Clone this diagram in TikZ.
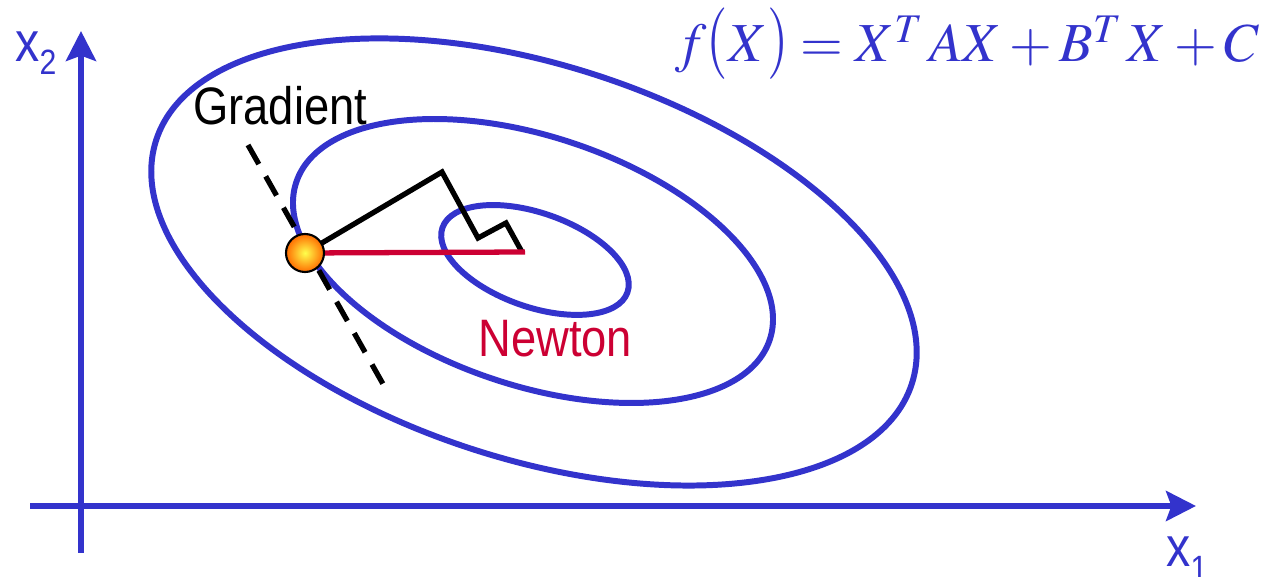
\documentclass[tikz,border=0pt]{standalone}
\usepackage{mathptmx}
\usepackage{graphicx}
\usepackage[no-math]{fontspec}
\newfontfamily\labelfont[FakeStretch=0.86]{Liberation Sans}
\usetikzlibrary{arrows.meta}
\definecolor{axisblue}{RGB}{51,51,204}
\definecolor{newtonred}{RGB}{204,0,51}
\newcommand{\tallparen}[1]{\mathopen{\hbox{\scalebox{1}[1.3]{$#1$}}}}
\newcommand{\tallclose}[1]{\mathclose{\hbox{\scalebox{1}[1.3]{$#1$}}}}

\begin{document}
\begin{tikzpicture}[
    x=0.02cm, y=-0.02cm,
    contour/.style={draw=axisblue, line width=3.4pt},
    axis/.style={draw=axisblue, line width=3.4pt,
        -{Stealth[length=17pt, width=17pt, inset=3pt]}},
    zigzag/.style={draw=black, line width=3pt, line join=miter},
    newton/.style={draw=newtonred, line width=3pt},
    tangent/.style={draw=black, line width=3pt, dash pattern=on 12.5pt off 8pt},
    ball/.style={circle, draw=black, line width=1.2pt, minimum size=0.76cm,
        inner sep=0pt, inner color=yellow!70!white, outer color=orange!85!red},
    lbl/.style={inner sep=0pt, anchor=base west,
        font=\labelfont\fontsize{30}{36}\selectfont}
]
\useasboundingbox (0,0) rectangle (1262,577);

% axes
\coordinate (v0) at (81,553);
\coordinate (v1) at (81,31);
\coordinate (h0) at (30,506);
\coordinate (h1) at (1196,506);
\draw[axis] (v0) -- (v1);
\draw[axis] (h0) -- (h1);

% level sets
\coordinate (c0) at (534,262);
\coordinate (c1) at (533,261);
\coordinate (c2) at (535,260);
\draw[contour, rotate around={-17.85:(c0)}] (c0) ellipse [x radius=397, y radius=197];
\draw[contour, rotate around={-18.4:(c1)}] (c1) ellipse [x radius=249.5, y radius=124.5];
\draw[contour, rotate around={-19.3:(c2)}] (c2) ellipse [x radius=98, y radius=47];

% steps
\coordinate (x0) at (305,253);
\coordinate (d1) at (248,145);
\coordinate (d2) at (383,384);
\coordinate (g1) at (442,172);
\coordinate (g2) at (478,238);
\coordinate (g3) at (506,223);
\coordinate (g4) at (522,252);
\coordinate (nend) at (525,252);
\draw[tangent] (d1) -- (d2);
\draw[zigzag] (x0) -- (g1) -- (g2) -- (g3) -- (g4);
\draw[newton] (x0) -- (nend);
\node[ball] (start) at (x0) {};

% labels
\node[lbl] (grad) at (193,125) {Gradient};
\node[lbl, text=newtonred] (newt) at (478,357) {Newton};
\node[lbl, text=axisblue, font=\labelfont\fontsize{32}{38}\selectfont] (xtwo) at (15,62)
    {x{\fontsize{20}{24}\selectfont\raisebox{-7.4pt}{2}}};
\node[lbl, text=axisblue, font=\labelfont\fontsize{32}{38}\selectfont] (xone) at (1166,567)
    {x{\fontsize{20}{24}\selectfont\raisebox{-7.4pt}{1}}};
\node[inner sep=0pt, anchor=base west, text=axisblue,
    font=\fontsize{31.3}{36}\selectfont] (quad) at (675,62)
    {$f\tallparen{(}X\tallclose{)}=X^{T}\,AX+B^{T}\,X+C$};
\end{tikzpicture}
\end{document}
